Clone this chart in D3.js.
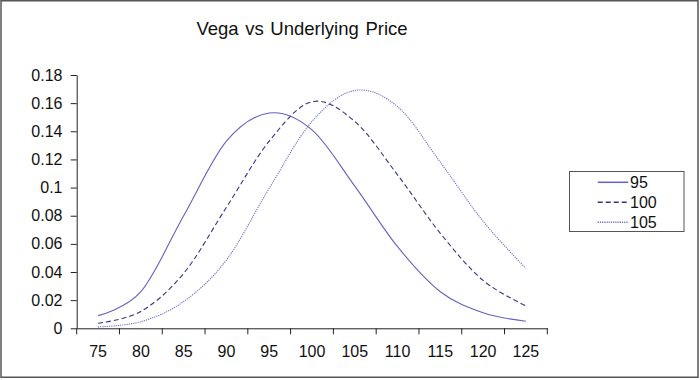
<!DOCTYPE html>
<html>
<head>
<meta charset="utf-8">
<script src="https://cdn.jsdelivr.net/npm/d3@7"></script>
<style>
  html, body { margin: 0; padding: 0; background: #fff; }
  svg { display: block; font-family: "Liberation Sans", Arial, sans-serif; }
</style>
</head>
<body>
<svg id="chart" width="700" height="380"></svg>
<script>
// ---- data ----
const categories = [75, 80, 85, 90, 95, 100, 105, 110, 115, 120, 125];
const seriesNames = ["95", "100", "105"];
const vega95  = [0.009, 0.026, 0.080, 0.133, 0.153, 0.141, 0.101, 0.058, 0.026, 0.011, 0.005];
const vega100 = [0.0036, 0.012, 0.039, 0.086, 0.133, 0.161, 0.147, 0.109, 0.0675, 0.034, 0.016];
const vega105 = [0.001, 0.0047, 0.019, 0.0485, 0.0995, 0.147, 0.169, 0.1575, 0.118, 0.076, 0.0426];
const yTicks = [0, 0.02, 0.04, 0.06, 0.08, 0.1, 0.12, 0.14, 0.16, 0.18];
const titleText = "Vega vs Underlying Price";

(function () {
// ---- styles ----
const seriesValues = [vega95, vega100, vega105];
const seriesStyles = [
  { color: "#6262c4", dash: null,  width: 1.1 },
  { color: "#34348c", dash: "5,3", width: 1.1 },
  { color: "#6f6fd0", dash: "1.2,1", width: 1.1 }
];
const fontFam = "Liberation Sans, Arial, sans-serif";

const svg = d3.select("#chart");
const plotL = 76.7, plotR = 547.3, plotT = 75, plotB = 328.3;

// chart border
svg.append("rect")
  .attr("x", 1).attr("y", 0.75).attr("width", 697).attr("height", 376.5)
  .attr("fill", "#fff").attr("stroke", "#555").attr("stroke-width", 1.5);

const x = d3.scaleBand().domain(categories).range([plotL, plotR]).padding(0);
const y = d3.scaleLinear().domain([0, 0.18]).range([plotB, plotT]);

// title
svg.append("text")
  .attr("x", 302).attr("y", 35)
  .attr("text-anchor", "middle")
  .attr("font-size", 18.5).attr("fill", "#111")
  .attr("word-spacing", 1.5)
  .text(titleText);

// y axis
const yAxis = svg.append("g")
  .attr("transform", `translate(${plotL},0)`)
  .call(d3.axisLeft(y).tickValues(yTicks).tickFormat(d => String(d)).tickSize(6).tickSizeOuter(0).tickPadding(8.2));
yAxis.selectAll("text").attr("font-size", 16).attr("fill", "#111").attr("font-family", fontFam);
yAxis.selectAll("line, path").attr("stroke", "#222");

// x axis: labels at band centres, ticks at band edges (Excel category style)
const xAxis = svg.append("g")
  .attr("transform", `translate(0,${plotB})`)
  .call(d3.axisBottom(x).tickSize(0).tickSizeOuter(0).tickPadding(17.6));
xAxis.selectAll("text").attr("font-size", 16).attr("fill", "#111").attr("font-family", fontFam);
xAxis.select("path").attr("stroke", "#222");
const edgePositions = categories.map(c => x(c)).concat([x.range()[1]]);
xAxis.selectAll("line.edge").data(edgePositions).enter().append("line")
  .attr("class", "edge")
  .attr("x1", d => d).attr("x2", d => d)
  .attr("y1", 0).attr("y2", 6)
  .attr("stroke", "#222");

// lines
const line = d3.line()
  .x((d, i) => x(categories[i]) + x.bandwidth() / 2)
  .y(d => y(d))
  .curve(d3.curveCardinal.tension(0));

seriesValues.forEach((vals, k) => {
  const st = seriesStyles[k];
  svg.append("path")
    .datum(vals)
    .attr("d", line)
    .attr("fill", "none")
    .attr("stroke", st.color)
    .attr("stroke-width", st.width)
    .attr("stroke-dasharray", st.dash);
});

// legend
const lg = svg.append("g");
lg.append("rect")
  .attr("x", 569.5).attr("y", 171.5).attr("width", 114.5).attr("height", 60)
  .attr("fill", "#fff").attr("stroke", "#555").attr("stroke-width", 1);
seriesNames.forEach((name, k) => {
  const cy = 182.3 + k * 20;
  const st = seriesStyles[k];
  lg.append("line")
    .attr("x1", 597.7).attr("x2", 628.3).attr("y1", cy).attr("y2", cy)
    .attr("stroke", st.color).attr("stroke-width", st.width + 0.4)
    .attr("stroke-dasharray", st.dash);
  lg.append("text")
    .attr("x", 630).attr("y", cy).attr("dy", "0.36em")
    .attr("font-size", 16).attr("fill", "#111").attr("font-family", fontFam)
    .text(name);
});
})();
</script>
</body>
</html>
